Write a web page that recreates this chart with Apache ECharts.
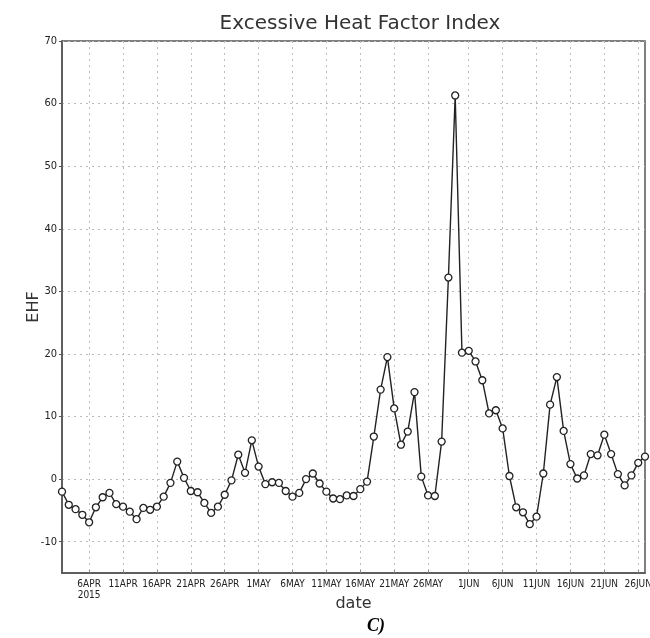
<!DOCTYPE html>
<html>
<head>
<meta charset="utf-8">
<script src="https://cdn.jsdelivr.net/npm/echarts@6/dist/echarts.min.js"></script>
<style>html,body{margin:0;padding:0;background:#fff}#c{width:650px;height:638px}</style>
</head>
<body>
<div id="c"></div>
<script>
// Daily dates, 2 Apr 2015 .. 27 Jun 2015
const startDate = [2015, 3, 2]; // year, month index (April), day
const dayCount = 87;
const monthNames = ['JAN','FEB','MAR','APR','MAY','JUN','JUL','AUG','SEP','OCT','NOV','DEC'];
const labelDays = [1, 6, 11, 16, 21, 26];
const yTicks = [-10, 0, 10, 20, 30, 40, 50, 60, 70];

const ehf = [
  -2.0, -4.1, -4.8, -5.7, -6.9, -4.5, -2.9, -2.2, -4.0, -4.4,
  -5.2, -6.4, -4.6, -4.9, -4.4, -2.8, -0.6, 2.8, 0.2, -1.9,
  -2.1, -3.8, -5.4, -4.4, -2.5, -0.2, 3.9, 1.0, 6.2, 2.0,
  -0.8, -0.5, -0.6, -1.9, -2.8, -2.2, 0.0, 0.9, -0.7, -2.0,
  -3.1, -3.2, -2.6, -2.7, -1.6, -0.4, 6.8, 14.3, 19.5, 11.3,
  5.5, 7.6, 13.9, 0.4, -2.6, -2.7, 6.0, 32.2, 61.3, 20.2,
  20.5, 18.8, 15.8, 10.5, 11.0, 8.1, 0.5, -4.5, -5.3, -7.2,
  -6.0, 0.9, 11.9, 16.3, 7.7, 2.4, 0.1, 0.6, 4.0, 3.8,
  7.1, 4.0, 0.8, -1.0, 0.6, 2.6, 3.6
];

const dates = [];
for (let i = 0; i < dayCount; i++) {
  const d = new Date(Date.UTC(startDate[0], startDate[1], startDate[2] + i));
  dates.push(d.toISOString().slice(0, 10));
}
function isLabelDay(idx) {
  const day = parseInt(dates[idx].slice(8, 10), 10);
  return labelDays.indexOf(day) >= 0;
}
const firstLabelIdx = dates.findIndex((d, i) => isLabelDay(i));

const axisFont = "'DejaVu Sans Condensed', 'DejaVu Sans', sans-serif";

const chart = echarts.init(document.getElementById('c'), null, {renderer: 'canvas'});
chart.setOption({
  animation: false,
  backgroundColor: '#fff',
  title: [{
    text: 'Excessive Heat Factor Index',
    left: 355, top: 9, textAlign: 'center',
    textStyle: {fontFamily: "'DejaVu Sans', sans-serif", fontSize: 20, fontWeight: 'normal', color: '#333'}
  }, {
    text: 'C)',
    left: 371, top: 612, textAlign: 'center',
    textStyle: {fontFamily: "'Liberation Serif', serif", fontSize: 18, fontWeight: 'bold', fontStyle: 'italic', color: '#000'}
  }],
  grid: {left: 62, right: 5, top: 41, bottom: 65, show: true, borderColor: '#555', borderWidth: 1.5,
         backgroundColor: '#fff', outerBoundsMode: 'none', containLabel: false},
  xAxis: {
    type: 'category',
    data: dates,
    boundaryGap: false,
    name: 'date',
    nameLocation: 'middle',
    nameGap: 23,
    nameMoveOverlap: false,
    nameTextStyle: {fontFamily: "'DejaVu Sans', sans-serif", fontSize: 16, color: '#333'},
    axisLine: {onZero: false, lineStyle: {color: '#555', width: 1.5}},
    axisTick: {show: true, inside: true, length: 3, interval: (i) => isLabelDay(i), lineStyle: {color: '#888'}},
    axisLabel: {
      interval: (i) => isLabelDay(i),
      hideOverlap: false,
      showMaxLabel: true,
      margin: 6,
      fontFamily: axisFont, fontSize: 10, color: '#222', lineHeight: 11,
      formatter: (v, i) => {
        const day = parseInt(v.slice(8, 10), 10);
        const mon = monthNames[parseInt(v.slice(5, 7), 10) - 1];
        let s = day + mon;
        if (i === firstLabelIdx) s += '\n' + v.slice(0, 4);
        return s;
      }
    },
    splitLine: {show: true, interval: (i) => isLabelDay(i), lineStyle: {color: '#bbb', type: [2, 4], width: 1}}
  },
  yAxis: {
    type: 'value',
    min: -15, max: 70,
    name: 'EHF',
    nameLocation: 'middle',
    nameGap: 20,
    nameRotate: 90,
    nameMoveOverlap: false,
    nameTextStyle: {fontFamily: "'DejaVu Sans', sans-serif", fontSize: 16, color: '#333'},
    axisLine: {show: true, onZero: false, lineStyle: {color: '#555', width: 1.5}},
    axisTick: {show: true, length: 3, customValues: yTicks, lineStyle: {color: '#555'}},
    axisLabel: {customValues: yTicks, margin: 5, fontFamily: axisFont, fontSize: 11, color: '#222'},
    splitLine: {show: true, lineStyle: {color: '#bbb', type: [2, 4], width: 1}}
  },
  series: [{
    type: 'line',
    data: ehf,
    symbol: 'circle',
    symbolSize: 7,
    showAllSymbol: true,
    lineStyle: {color: '#222', width: 1.4},
    itemStyle: {color: '#fff', borderColor: '#222', borderWidth: 1.3},
    z: 5
  }]
});
</script>
</body>
</html>
